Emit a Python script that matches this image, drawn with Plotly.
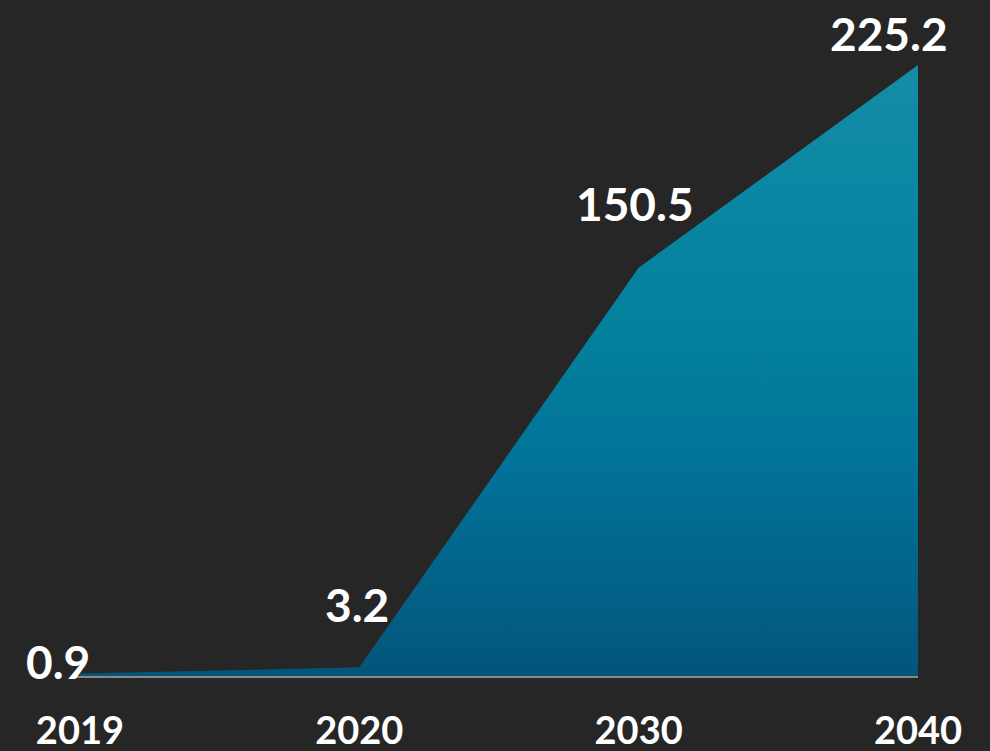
import plotly.graph_objects as go

years = ["2019", "2020", "2030", "2040"]
values = [0.9, 3.2, 150.5, 225.2]
value_labels = ["0.9", "3.2", "150.5", "225.2"]
label_xshift = [-22, -2, -4, -29]
label_yshift = [12, 63, 64, 32]

fig = go.Figure()
fig.add_trace(go.Scatter(
    x=list(range(len(years))), y=values,
    mode="lines", fill="tozeroy",
    line=dict(width=0, color="rgba(0,0,0,0)"),
    fillgradient=dict(
        type="vertical",
        colorscale=[[0, "#03557a"], [0.35, "#02739a"], [0.55, "#03809c"], [0.8, "#0a88a3"], [1, "#168ca6"]],
    ),
    hoverinfo="skip", showlegend=False,
))

for i, (v, t) in enumerate(zip(values, value_labels)):
    fig.add_annotation(
        x=i, y=v, text=t, showarrow=False,
        xanchor="center", yanchor="middle",
        xshift=label_xshift[i], yshift=label_yshift[i],
        font=dict(family="Lato", size=46, color="white", weight="bold"),
    )

fig.update_layout(
    width=990, height=751,
    margin=dict(l=71, r=72, t=52, b=75),
    paper_bgcolor="#262626", plot_bgcolor="#262626",
    xaxis=dict(
        range=[-0.032, 3], tickmode="array",
        tickvals=list(range(len(years))), ticktext=years,
        showgrid=False, zeroline=False, automargin=False,
        showline=True, linecolor="#8a8a8a", linewidth=2,
        ticks="", ticklabelstandoff=20,
        tickfont=dict(family="Lato", size=38, color="white", weight="bold"),
    ),
    yaxis=dict(range=[0, 230], visible=False, showgrid=False, zeroline=False, automargin=False),
)

fig.write_html(
    "out.html",
    config={"displayModeBar": False},
    post_script="document.body.style.margin='0';document.body.style.overflow='hidden';",
)
